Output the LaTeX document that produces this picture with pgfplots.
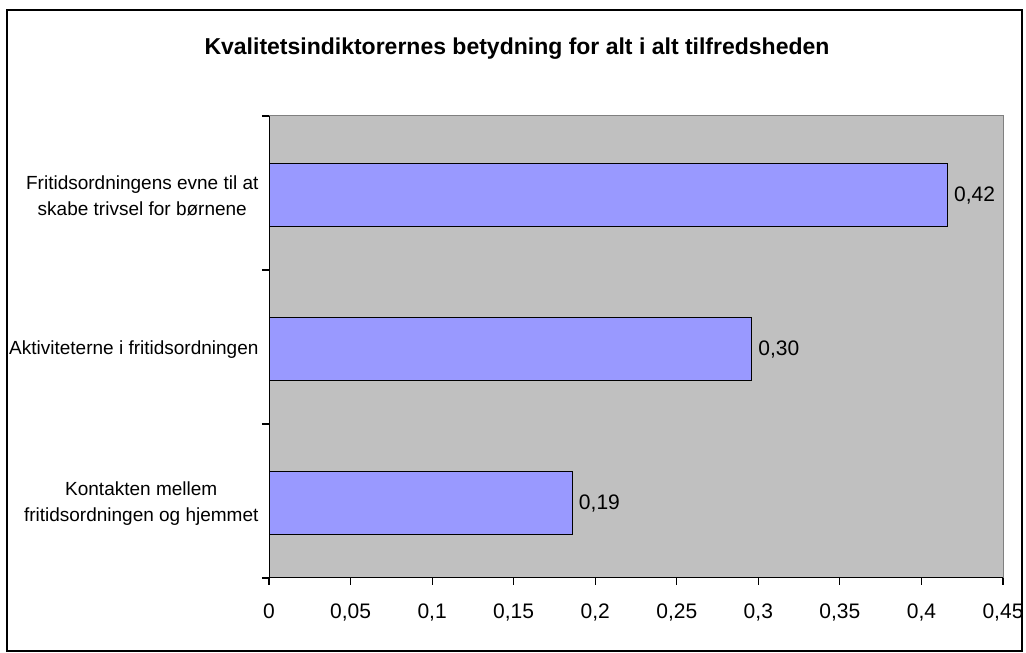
\documentclass[border=0pt]{standalone}
\usepackage{fontspec}
\setmainfont{Liberation Sans}
\usepackage{pgfplots}
\pgfplotsset{compat=1.18}
\definecolor{plotbg}{HTML}{C0C0C0}
\definecolor{barfill}{HTML}{9999FF}
\definecolor{framegray}{HTML}{808080}
\begin{document}
\begin{tikzpicture}[x=1pt,y=1pt]
\useasboundingbox (0,0) rectangle (1026,653);
\draw[line width=1.2pt] (7,2) rectangle (1022,643);
\node[anchor=base, inner sep=0pt, font=\fontsize{23}{28}\selectfont\bfseries] at (517,598)
  {Kvalitetsindiktorernes betydning for alt i alt tilfredsheden};
\begin{axis}[
    at={(269pt,75pt)}, anchor=south west,
    scale only axis, width=734pt, height=462pt,
    xbar, bar width=63pt,
    xmin=0, xmax=0.45, ymin=0.5, ymax=3.5,
    axis background/.style={fill=plotbg},
    axis line style={draw=framegray, line width=1pt},
    tick align=outside, xtick pos=lower, ytick pos=left,
    major tick length=7pt,
    tick style={black, line width=1.2pt},
    xtick={0,0.05,0.1,0.15,0.2,0.25,0.3,0.35,0.4,0.45},
    xticklabels={0,{0,05},{0,1},{0,15},{0,2},{0,25},{0,3},{0,35},{0,4},{0,45}},
    xticklabel style={font=\fontsize{21}{24}\selectfont, yshift=-15pt},
    ytick={0.5,1.5,2.5,3.5}, yticklabels={},
    extra y ticks={0.985,1.985,2.985},
    extra y tick labels={{Kontakten mellem\\fritidsordningen og hjemmet},
                         {Aktiviteterne i fritidsordningen},
                         {Fritidsordningens evne til at\\skabe trivsel for børnene}},
    extra y tick style={tick style={draw=none}},
    yticklabel style={font=\fontsize{19}{26}\selectfont, align=center},
    point meta=explicit symbolic,
    nodes near coords,
    nodes near coords style={anchor=west, font=\fontsize{21}{24}\selectfont, inner sep=6pt, black},
  ]
  \addplot[fill=barfill, draw=black, line width=1.2pt] coordinates {
    (0.186,0.985) [{0,19}]
    (0.296,1.985) [{0,30}]
    (0.416,2.985) [{0,42}]
  };
  \draw[black, line width=1.4pt] (rel axis cs:0,1) -- (rel axis cs:0,0) -- (rel axis cs:1,0);
\end{axis}
\end{tikzpicture}
\end{document}
